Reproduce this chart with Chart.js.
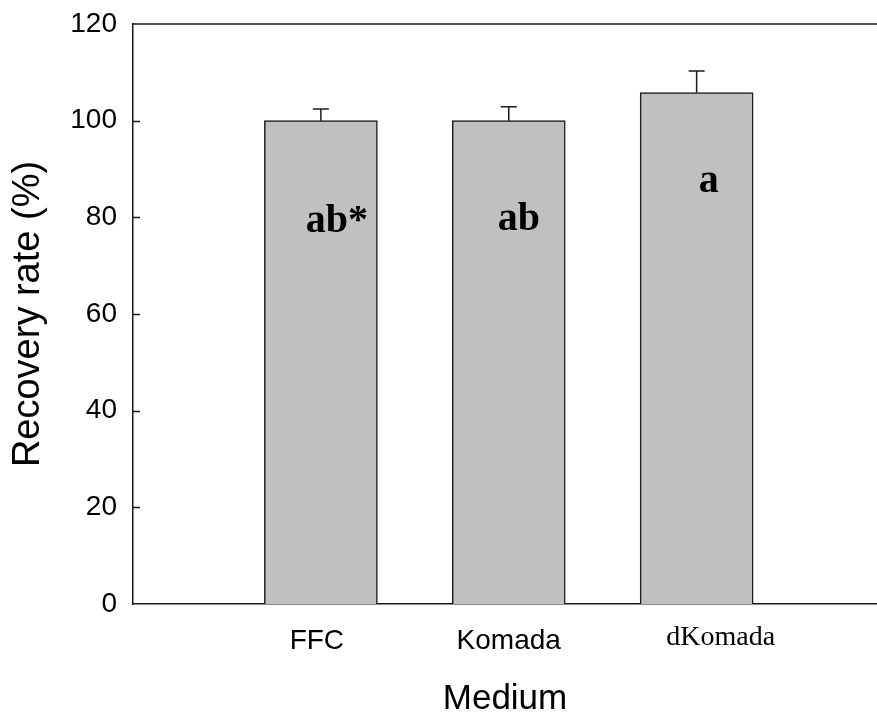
<!DOCTYPE html>
<html>
<head>
<meta charset="utf-8">
<title>Recovery rate by medium</title>
<script src="https://cdn.jsdelivr.net/npm/chart.js@4.4.0/dist/chart.umd.min.js"></script>
<style>
  html, body { margin: 0; padding: 0; background: #fff; }
  #chart { display: block; }
</style>
</head>
<body>
<canvas id="chart" width="877" height="717"></canvas>
<script>
// values
const categories = ['FFC', 'Komada', 'dKomada'];
const recovery = [100, 100, 105.8];
const recoveryErr = [2.4, 2.9, 4.5];
const sigLetters = ['ab*', 'ab', 'a'];
const yTicks = [0, 20, 40, 60, 80, 100, 120];

const SANS = "'Liberation Sans', Arial, sans-serif";
const SERIF = "'Liberation Serif', 'Times New Roman', serif";
const INK = '#1a1a1a';

// tick label look per category (dKomada was set in a serif face in the original)
const tickLook = [
    { family: SANS, dx: -4, dy: 0 },
    { family: SANS, dx: 0, dy: 0 },
    { family: SERIF, dx: 24, dy: -4 }
];
// significance letters, offset from the top of each bar
const letterLook = [
    { dx: 16, dy: 111 },
    { dx: 10, dy: 109 },
    { dx: 12, dy: 99 }
];

const figureExtras = {
    id: 'figureExtras',
    afterDatasetsDraw(chart) {
        const { ctx, chartArea } = chart;
        const x = chart.scales.x;
        const y = chart.scales.y;
        ctx.save();
        ctx.strokeStyle = INK;
        ctx.lineWidth = 1.5;

        // top frame line, no right side
        ctx.beginPath();
        ctx.moveTo(chartArea.left, chartArea.top);
        ctx.lineTo(chartArea.right, chartArea.top);
        ctx.stroke();

        // y ticks point inward
        yTicks.forEach(v => {
            if (v === yTicks[0] || v === yTicks[yTicks.length - 1]) return;
            const py = Math.round(y.getPixelForValue(v)) + 0.5;
            ctx.beginPath();
            ctx.moveTo(chartArea.left, py);
            ctx.lineTo(chartArea.left + 7, py);
            ctx.stroke();
        });

        categories.forEach((name, i) => {
            const cx = x.getPixelForValue(i + 1);
            const top = y.getPixelForValue(recovery[i]);
            const hi = y.getPixelForValue(recovery[i] + recoveryErr[i]);

            // upper error bar only
            ctx.beginPath();
            ctx.moveTo(cx, top);
            ctx.lineTo(cx, hi);
            ctx.moveTo(cx - 8, hi);
            ctx.lineTo(cx + 8, hi);
            ctx.stroke();

            // significance letters
            ctx.fillStyle = '#000';
            ctx.font = `bold 40px ${SERIF}`;
            ctx.textAlign = 'center';
            ctx.textBaseline = 'alphabetic';
            ctx.fillText(sigLetters[i], cx + letterLook[i].dx, top + letterLook[i].dy);

            // category labels
            ctx.font = `28px ${tickLook[i].family}`;
            ctx.fillText(name, cx + tickLook[i].dx, chartArea.bottom + 45 + tickLook[i].dy);
        });
        ctx.restore();
    }
};

new Chart(document.getElementById('chart'), {
    type: 'bar',
    data: {
        datasets: [{
            label: 'Recovery rate',
            data: recovery.map((v, i) => ({ x: i + 1, y: v })),
            backgroundColor: '#c0c0c0',
            borderColor: INK,
            borderWidth: 1.5,
            barThickness: 113
        }]
    },
    options: {
        responsive: false,
        animation: false,
        devicePixelRatio: 1,
        layout: { padding: { top: 24, right: 0, left: 0, bottom: 0 } },
        plugins: { legend: { display: false }, tooltip: { enabled: false } },
        scales: {
            x: {
                type: 'linear',
                offset: false,
                min: 0,
                max: 3.96,
                grid: { display: false, drawTicks: false },
                border: { display: true, color: INK, width: 1.5 },
                ticks: { display: false },
                title: {
                    display: true,
                    text: 'Medium',
                    color: '#000',
                    font: { family: SANS, size: 35, lineHeight: 1 },
                    padding: { top: 0, bottom: 0 }
                },
                afterFit: s => { s.height = 113; s.paddingLeft = 0; s.paddingRight = 0; }
            },
            y: {
                min: 0,
                max: 120,
                afterBuildTicks: s => { s.ticks = yTicks.map(v => ({ value: v })); },
                grid: { display: false, drawTicks: false },
                border: { display: true, color: INK, width: 1.5 },
                ticks: {
                    color: '#000',
                    padding: 16,
                    font: { family: SANS, size: 28 }
                },
                title: {
                    display: true,
                    text: 'Recovery rate (%)',
                    color: '#000',
                    font: { family: SANS, size: 38, lineHeight: 1 },
                    padding: { top: 10, bottom: 0 }
                },
                afterFit: s => { s.width = 133; s.paddingTop = 0; s.paddingBottom = 0; }
            }
        }
    },
    plugins: [figureExtras]
});
</script>
</body>
</html>
